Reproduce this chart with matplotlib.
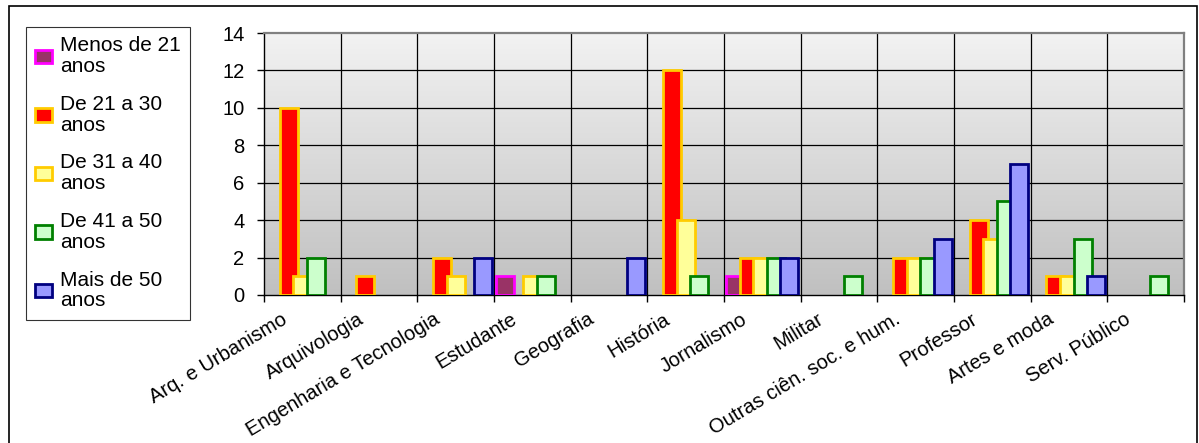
import matplotlib
matplotlib.use("Agg")
import matplotlib.pyplot as plt
import numpy as np
from matplotlib.colors import LinearSegmentedColormap
from matplotlib.patches import Rectangle
from matplotlib.transforms import ScaledTranslation

plt.rcParams['font.family'] = ['Liberation Sans', 'DejaVu Sans']

# categorias (profissões)
categorias = ['Arq. e Urbanismo', 'Arquivologia', 'Engenharia e Tecnologia',
              'Estudante', 'Geografia', 'História', 'Jornalismo', 'Militar',
              'Outras ciên. soc. e hum.', 'Professor', 'Artes e moda',
              'Serv. Público']

# faixas etárias
series = ['Menos de 21\nanos', 'De 21 a 30\nanos', 'De 31 a 40\nanos',
          'De 41 a 50\nanos', 'Mais de 50\nanos']

menos_21 = [0, 0, 0, 1, 0, 0, 1, 0, 0, 0, 0, 0]
de_21_30 = [10, 1, 2, 0, 0, 12, 2, 0, 2, 4, 1, 0]
de_31_40 = [1, 0, 1, 1, 0, 4, 2, 0, 2, 3, 1, 0]
de_41_50 = [2, 0, 0, 1, 0, 1, 2, 1, 2, 5, 3, 1]
mais_50 = [0, 0, 2, 0, 2, 0, 2, 0, 3, 7, 1, 0]
valores = [menos_21, de_21_30, de_31_40, de_41_50, mais_50]

cores = ['#993366', '#FF0000', '#FFFF99', '#CCFFCC', '#9999FF']
bordas = ['#FF00FF', '#FFCC00', '#FFCC00', '#008000', '#000080']

FS = 14.5
W, H = 1199, 443
fig = plt.figure(figsize=(W / 100, H / 100), dpi=100)
ax = fig.add_axes([264 / W, 1 - 295 / H, (1184 - 264) / W, (295 - 33) / H])

# fundo em degradê
cmap = LinearSegmentedColormap.from_list('fundo', ['#C0C0C0', '#F2F2F2'])
grad = np.linspace(0, 1, 256).reshape(-1, 1)
ax.imshow(grad, extent=[0, 1, 0, 1], transform=ax.transAxes, origin='lower',
          aspect='auto', cmap=cmap, zorder=0)

x = np.arange(len(categorias))
passo = 0.177
largura = 0.235
for i in range(len(series)):
    v = np.array(valores[i])
    m = v > 0  # barras de valor zero não aparecem
    ax.bar(x[m] + (i - 2) * passo, v[m], largura, color=cores[i],
           edgecolor=bordas[i], linewidth=2.0, label=series[i], zorder=3)

ax.set_xlim(-0.5, len(categorias) - 0.5)
ax.set_ylim(0, 14)
ax.set_yticks(range(0, 15, 2))

# grade
for yv in range(2, 14, 2):
    ax.axhline(yv, color='black', lw=0.9, zorder=1)
for xv in np.arange(0.5, len(categorias) - 0.5, 1):
    ax.axvline(xv, color='black', lw=0.9, zorder=1)

for s in ['top', 'right']:
    ax.spines[s].set_color('#808080')
    ax.spines[s].set_linewidth(1.6)
for s in ['left', 'bottom']:
    ax.spines[s].set_color('black')
    ax.spines[s].set_linewidth(1.0)

ax.tick_params(axis='y', length=5, width=1, pad=9, labelsize=FS)
ax.set_xticks(x)
ax.set_xticks(np.arange(-0.5, len(categorias), 1), minor=True)
ax.tick_params(axis='x', which='major', length=0, pad=9)
ax.tick_params(axis='x', which='minor', length=5, width=1)
ax.set_xticklabels(categorias, rotation=31, ha='right', va='top',
                   rotation_mode='anchor', fontsize=FS)
desloc = ScaledTranslation(-0.22, -0.02, fig.dpi_scale_trans)
for lab in ax.get_xticklabels():
    lab.set_transform(lab.get_transform() + desloc)

leg = fig.legend(loc='upper left', bbox_to_anchor=(26 / W, 1 - 27 / H),
                 bbox_transform=fig.transFigure, borderaxespad=0,
                 fontsize=15, frameon=True, fancybox=False,
                 handlelength=0.82, handleheight=0.62, handletextpad=0.35,
                 labelspacing=0.9, borderpad=0.45)
leg.get_frame().set_edgecolor('black')
leg.get_frame().set_linewidth(0.8)
for t in leg.get_texts():
    t.set_linespacing(1.12)

# moldura externa
fig.patches.append(Rectangle((9 / W, -0.05), (1197 - 9) / W, 1.05 - 6 / H,
                             transform=fig.transFigure, fill=False,
                             edgecolor='black', lw=1.2, zorder=10))

fig.savefig('out.png', dpi=100)
